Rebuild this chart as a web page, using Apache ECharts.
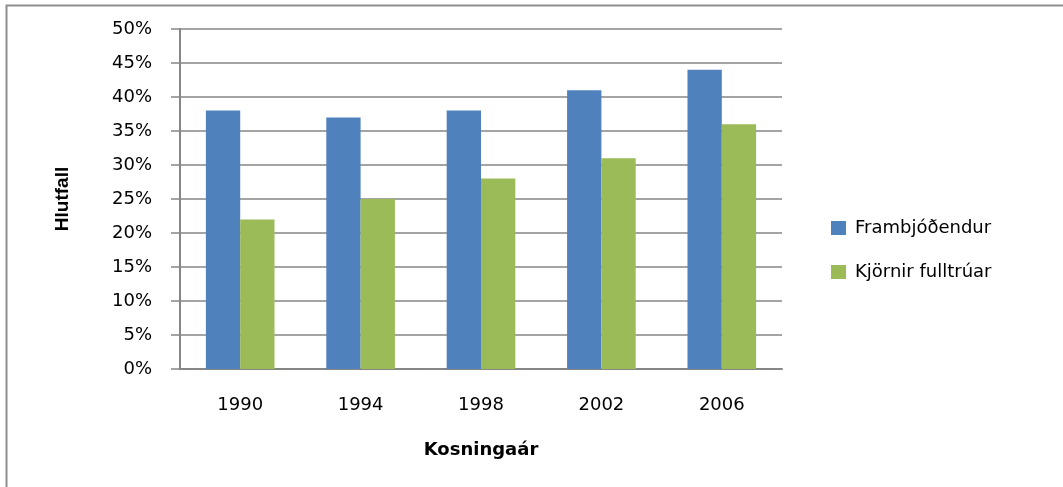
<!DOCTYPE html>
<html>
<head>
<meta charset="utf-8">
<script src="https://cdn.jsdelivr.net/npm/echarts@6/dist/echarts.min.js"></script>
<style>
  html, body { margin: 0; padding: 0; background: #fff; }
  #chart { width: 1063px; height: 487px; }
</style>
</head>
<body>
<div id="chart"></div>
<script>
var years = ['1990', '1994', '1998', '2002', '2006'];
var frambjodendur = [38, 37, 38, 41, 44];
var kjornir = [22, 25, 28, 31, 36];
var yTicks = { min: 0, max: 50, interval: 5 };

var myChart = echarts.init(document.getElementById('chart'));
var font = 'DejaVu Sans';

var option = {
    backgroundColor: '#fff',
    animation: false,
    graphic: [{
        type: 'rect',
        left: 4, top: 3,
        shape: { width: 1080, height: 520 },
        style: { fill: 'none', stroke: '#8e8e8e', lineWidth: 2 }
    }],
    grid: { left: 180, top: 29, width: 602, height: 340 },
    legend: {
        orient: 'vertical',
        left: 831, top: 219,
        padding: 0,
        itemWidth: 15, itemHeight: 14, itemGap: 26,
        icon: 'rect',
        textStyle: { fontFamily: font, fontSize: 18, color: '#000', padding: [0, 0, 0, 4] },
        data: ['Frambjóðendur', 'Kjörnir fulltrúar']
    },
    xAxis: {
        type: 'category',
        data: years,
        name: 'Kosningaár',
        nameLocation: 'middle',
        nameGap: 72,
        nameTextStyle: { fontFamily: font, fontSize: 18, fontWeight: 'bold', color: '#000' },
        axisLine: { lineStyle: { color: '#868686', width: 2 } },
        axisTick: { length: 6, lineStyle: { color: '#868686', width: 2 } },
        axisLabel: { fontFamily: font, fontSize: 18, color: '#000', margin: 27 }
    },
    yAxis: {
        type: 'value',
        min: yTicks.min, max: yTicks.max, interval: yTicks.interval,
        name: 'Hlutfall',
        nameLocation: 'middle',
        nameGap: 108,
        nameRotate: 90,
        nameTextStyle: { fontFamily: 'Liberation Sans', fontSize: 19, fontWeight: 'bold', color: '#000' },
        axisLine: { show: true, lineStyle: { color: '#868686', width: 2 } },
        axisTick: { show: true, length: 9, lineStyle: { color: '#868686', width: 1.5 } },
        axisLabel: { fontFamily: font, fontSize: 18, color: '#000', margin: 28, formatter: '{value}%' },
        splitLine: { lineStyle: { color: '#868686', width: 1.5 } }
    },
    series: [{
        name: 'Frambjóðendur',
        type: 'bar',
        data: frambjodendur,
        barGap: '0%',
        barCategoryGap: '43%',
        itemStyle: { color: '#4f81bd' }
    }, {
        name: 'Kjörnir fulltrúar',
        type: 'bar',
        data: kjornir,
        itemStyle: { color: '#9bbb59' }
    }]
};

myChart.setOption(option);
</script>
</body>
</html>
